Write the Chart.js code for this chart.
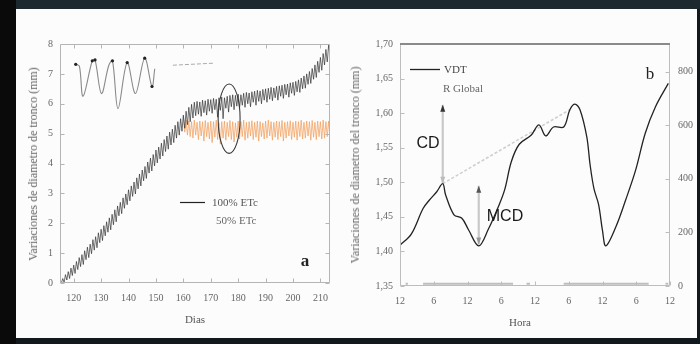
<!DOCTYPE html>
<html><head><meta charset="utf-8">
<script src="https://cdn.jsdelivr.net/npm/chart.js@4/dist/chart.umd.min.js"></script>
<style>
html,body{margin:0;padding:0;}
body{width:700px;height:344px;background:#12191c;position:relative;overflow:hidden;font-family:"Liberation Serif","DejaVu Serif",serif;}
#top{position:absolute;left:0;top:0;width:700px;height:9px;background:#1c2a2f;}
#left{position:absolute;left:0;top:0;width:16px;height:344px;background:#0a0a0a;}
#paper{position:absolute;left:16px;top:9px;width:681px;height:329px;background:#fcfcfc;}
canvas{position:absolute;}
.t{position:absolute;white-space:nowrap;color:#555;font-size:11px;line-height:1;transform:translate(0,-50%);}
.c{transform:translate(-50%,-50%);}
.r{transform:translate(-50%,-50%) rotate(-90deg);}
</style></head>
<body>
<div id="top"></div><div id="left"></div><div id="paper"></div>
<canvas id="ca" width="329" height="329" style="left:16px;top:9px"></canvas>
<canvas id="cb" width="355" height="329" style="left:345px;top:9px"></canvas>
<canvas id="ci" width="100" height="70" style="left:68px;top:50px"></canvas>

<div class="t r" style="left:33px;top:164px;font-size:12px;color:#666">Variaciones de diametro de tronco (mm)</div>
<div class="t c" style="left:195px;top:319px;font-size:11px;color:#555">Dias</div>
<div class="t" style="left:212px;top:202px;font-size:11px;color:#555">100% ETc</div>
<div class="t" style="left:216px;top:220px;font-size:11px;color:#666">50% ETc</div>
<div class="t c" style="left:305px;top:260px;font-size:17px;color:#222;font-weight:bold">a</div>

<div class="t r" style="left:355px;top:165px;font-size:12px;color:#666">Variaciones de diametro del tronco (mm)</div>
<div class="t c" style="left:520px;top:322px;font-size:11px;color:#555">Hora</div>
<div class="t" style="left:444px;top:69px;font-size:11px;color:#444">VDT</div>
<div class="t" style="left:443px;top:88px;font-size:11px;color:#666">R Global</div>
<div class="t c" style="left:650px;top:73px;font-size:17px;color:#222">b</div>
<div class="t c" style="left:428px;top:143px;font-size:16px;color:#1a1a1a;font-family:'Liberation Sans',Arial,sans-serif">CD</div>
<div class="t c" style="left:505px;top:216px;font-size:16px;color:#1a1a1a;font-family:'Liberation Sans',Arial,sans-serif">MCD</div>

<script>
// ---------- Panel a data ----------
const firstDay = 115;
const dayTicks = [120,130,140,150,160,170,180,190,200,210];
const mmTicks = [0,1,2,3,4,5,6,7,8];
// 100% ETc, daily maxima and minima (days 115..213)
const max100 = [0.05,0.15,0.28,0.38,0.50,0.60,0.72,0.85,0.95,1.08,
 1.20,1.30,1.45,1.55,1.68,1.80,1.92,2.05,2.18,2.30,
 2.45,2.58,2.70,2.85,2.98,3.12,3.25,3.38,3.52,3.65,
 3.78,3.90,4.05,4.18,4.30,4.45,4.55,4.68,4.80,4.92,
 5.05,5.15,5.28,5.40,5.50,5.62,5.75,5.88,5.98,6.05,
 6.08,6.06,6.12,6.10,6.15,6.14,6.18,6.15,6.20,6.22,
 6.20,6.25,6.28,6.30,6.28,6.32,6.30,6.35,6.38,6.36,
 6.40,6.42,6.45,6.43,6.48,6.50,6.52,6.55,6.53,6.58,
 6.60,6.62,6.65,6.66,6.70,6.72,6.75,6.80,6.86,6.93,
 7.00,7.08,7.18,7.30,7.42,7.55,7.68,7.82,7.96];
const min100 = [0.00,0.02,0.10,0.15,0.25,0.32,0.45,0.55,0.62,0.78,
 0.85,0.98,1.10,1.18,1.35,1.42,1.58,1.70,1.78,1.95,
 2.05,2.25,2.32,2.50,2.62,2.75,2.90,2.98,3.15,3.25,
 3.42,3.50,3.68,3.75,3.92,4.02,4.15,4.25,4.40,4.48,
 4.62,4.70,4.85,4.95,5.08,5.18,5.30,5.40,5.52,5.60,
 5.65,5.58,5.70,5.62,5.75,5.68,5.80,5.55,5.78,5.50,
 5.85,5.72,5.90,5.80,5.92,5.85,5.95,5.88,6.00,5.90,
 6.05,5.95,6.08,6.00,6.12,6.05,6.15,6.10,6.20,6.12,
 6.25,6.18,6.30,6.22,6.35,6.28,6.40,6.38,6.50,6.52,
 6.65,6.68,6.82,6.88,7.05,7.12,7.30,7.40,7.60];
// 50% ETc, daily maxima and minima (days 160..213)
const firstDay50 = 160;
const max50 = [5.55,5.45,5.42,5.40,5.45,5.38,5.42,5.40,5.44,5.38,
 5.42,5.40,5.45,5.36,5.40,5.42,5.38,5.44,5.40,5.36,
 5.42,5.40,5.45,5.38,5.40,5.43,5.38,5.42,5.40,5.36,
 5.42,5.45,5.40,5.38,5.42,5.40,5.44,5.38,5.40,5.43,
 5.38,5.42,5.40,5.45,5.38,5.42,5.40,5.44,5.38,5.42,
 5.40,5.45,5.40,5.42];
const min50 = [5.05,4.95,4.90,4.85,4.95,4.80,4.92,4.75,4.90,4.82,
 4.70,4.88,4.80,4.65,4.85,4.78,4.90,4.80,4.72,4.88,
 4.82,4.90,4.78,4.85,4.92,4.80,4.88,4.75,4.90,4.82,
 4.85,4.92,4.78,4.88,4.80,4.90,4.75,4.85,4.92,4.80,
 4.88,4.78,4.90,4.82,4.85,4.92,4.78,4.88,4.80,4.90,
 4.82,4.85,4.90,4.85];
// inset (zoom of daily cycles)
const insetHours = [2.7,8,13.3,26.7,30.7,40,50.7,56,64,77.3,89.3,102.7,113.3,117.3];
const insetValues = [7.35,7.29,6.27,7.47,7.50,6.36,7.32,7.47,5.85,7.41,6.36,7.56,6.60,7.20];
// connector inset -> ellipse
const connectorDays = [156.2,171.5];
const connectorValues = [7.29,7.36];
const ellipseA = {day:176.7, value:5.5, rDays:4.0, rValue:1.16};

// ---------- Panel b data ----------
const hourTicks = [0,6,12,18,24,30,36,42,48];
const hourLabels = ['12','6','12','6','12','6','12','6','12'];
const vdtTicks = [1.35,1.40,1.45,1.50,1.55,1.60,1.65,1.70];
const radTicks = [0,200,400,600,800];
const vdtHours = [0,2.0,4.1,5.2,6.5,7.6,8.1,9.6,11,12.2,14.0,15.7,17.5,18.6,19.8,21.2,23.3,24.7,25.9,27.3,29.1,30.2,31.1,32.0,33.2,33.8,34.5,35.3,36.0,36.6,38.4,40.1,41.9,43.6,45.4,47.7];
const vdtValues = [1.409,1.425,1.462,1.474,1.486,1.498,1.482,1.453,1.448,1.431,1.408,1.432,1.465,1.489,1.530,1.555,1.568,1.583,1.567,1.580,1.580,1.605,1.613,1.605,1.566,1.525,1.490,1.468,1.430,1.408,1.436,1.474,1.518,1.571,1.609,1.643];
const rGlobalHours = [1,1.4,2,4.1,20.1,21,22.5,23.1,25,29.1,44.2,45,47.2,47.7];
const rGlobalValues = [8,8,null,8,8,null,8,8,null,8,8,null,8,8];
const trendHours = [7.6,30.2];
const trendValues = [1.498,1.605];
const cdArrow = {hour:7.6, from:1.498, to:1.612};
const mcdArrow = {hour:14.0, from:1.410, to:1.495};

// ---------- helpers ----------
const tickFont = {family:"'Liberation Serif', serif", size:10};
const tickColor = '#666';
function pair(xs, ys){ return xs.map((x,i)=>({x:x, y:ys[i]})); }
function dailyPoints(start, maxs, mins){
  const pts=[];
  maxs.forEach((v,i)=>{ pts.push({x:start+i, y:v}); pts.push({x:start+i+0.5, y:mins[i]}); });
  return pts;
}
function drawFrame(chart, o){
  const {ctx, chartArea:ca, scales} = chart;
  const L = 4;
  ctx.save();
  ctx.strokeStyle = o.color; ctx.lineWidth = 1;
  const l=Math.round(ca.left)+0.5, r=Math.round(ca.right)-0.5, t=Math.round(ca.top)+0.5, b=Math.round(ca.bottom)-0.5;
  ctx.beginPath();
  ctx.moveTo(l,t); ctx.lineTo(l,b); ctx.lineTo(r,b); ctx.lineTo(r,t);
  if(!o.topStrong){ ctx.lineTo(l,t); }
  scales.x.ticks.forEach(tk=>{ const p=Math.round(scales.x.getPixelForValue(tk.value))+0.5;
    ctx.moveTo(p,b); ctx.lineTo(p,b-L); if(o.mirror){ ctx.moveTo(p,t); ctx.lineTo(p,t+L);} });
  scales.y.ticks.forEach(tk=>{ const p=Math.round(scales.y.getPixelForValue(tk.value))+0.5;
    ctx.moveTo(l,p); ctx.lineTo(l+L,p); if(o.mirror){ ctx.moveTo(r,p); ctx.lineTo(r-L,p);} });
  if(scales.y2){ scales.y2.ticks.forEach(tk=>{ const p=Math.round(scales.y2.getPixelForValue(tk.value))+0.5;
    ctx.moveTo(r,p); ctx.lineTo(r-L,p); }); }
  ctx.stroke();
  if(o.topStrong){ ctx.strokeStyle='#8a8a8a'; ctx.lineWidth=2; ctx.beginPath(); ctx.moveTo(ca.left,ca.top); ctx.lineTo(ca.right,ca.top); ctx.stroke(); }
  ctx.restore();
}
Chart.defaults.animation = false;
Chart.defaults.font.family = "'Liberation Serif', serif";
const noGrid = {display:false, drawTicks:false};

// ---------- Panel a ----------
new Chart(document.getElementById('ca'), {
  type:'line',
  data:{datasets:[
    {data:dailyPoints(firstDay, max100, min100), borderColor:'rgba(45,45,45,0.85)', borderWidth:0.8, pointRadius:0, tension:0},
    {data:dailyPoints(firstDay50, max50, min50), borderColor:'rgba(242,160,95,0.75)', borderWidth:1, pointRadius:0, tension:0},
    {data:pair(connectorDays, connectorValues), borderColor:'#aaa', borderWidth:1, borderDash:[4,2], pointRadius:0}
  ]},
  options:{
    responsive:false, devicePixelRatio:1,
    layout:{padding:{top:35, right:15, left:0, bottom:0}},
    plugins:{legend:{display:false}, tooltip:{enabled:false}},
    scales:{
      x:{type:'linear', min:115, max:213.5, grid:noGrid, border:{display:false},
         afterBuildTicks:s=>{ s.ticks = dayTicks.map(v=>({value:v})); },
         afterFit:s=>{ s.height = 55; },
         ticks:{font:tickFont, color:tickColor, padding:9, maxRotation:0, autoSkip:false}},
      y:{type:'linear', min:0, max:8, grid:noGrid, border:{display:false},
         afterBuildTicks:s=>{ s.ticks = mmTicks.map(v=>({value:v})); },
         afterFit:s=>{ s.width = 44; },
         ticks:{font:tickFont, color:tickColor, padding:7}}
    }
  },
  plugins:[{id:'frameA', afterDraw(c){
    drawFrame(c, {color:'#b5b5b5', mirror:true});
    const {ctx, scales:{x,y}} = c;
    const cx=x.getPixelForValue(ellipseA.day), cy=y.getPixelForValue(ellipseA.value);
    const rx=x.getPixelForValue(ellipseA.day+ellipseA.rDays)-cx, ry=cy-y.getPixelForValue(ellipseA.value+ellipseA.rValue);
    ctx.save(); ctx.strokeStyle='#3a3a3a'; ctx.lineWidth=1.1;
    ctx.beginPath(); ctx.ellipse(cx,cy,rx,ry,0,0,Math.PI*2); ctx.stroke();
    ctx.strokeStyle='#222'; ctx.lineWidth=1.2; ctx.beginPath(); ctx.moveTo(164,193.5); ctx.lineTo(189,193.5); ctx.stroke();
    ctx.restore();
  }}]
});

// ---------- Inset ----------
new Chart(document.getElementById('ci'), {
  type:'line',
  data:{datasets:[{data:pair(insetHours, insetValues), borderColor:'#8a8a8a', borderWidth:1.1, tension:0.35,
    pointRadius:ctx=>{ const v=ctx.raw && ctx.raw.y; return (v>7.4||ctx.dataIndex===0||ctx.dataIndex===12)?1.6:0; },
    pointBackgroundColor:'#222', pointBorderWidth:0}]},
  options:{responsive:false, devicePixelRatio:1, layout:{padding:0},
    plugins:{legend:{display:false}, tooltip:{enabled:false}},
    scales:{x:{type:'linear', display:false, min:-2.7, max:130.7}, y:{display:false, min:5.6, max:7.7}}}
});

// ---------- Panel b ----------
new Chart(document.getElementById('cb'), {
  type:'line',
  data:{datasets:[
    {data:pair(vdtHours, vdtValues), borderColor:'#222', borderWidth:1.3, pointRadius:0, tension:0.35, yAxisID:'y'},
    {data:pair(rGlobalHours, rGlobalValues), borderColor:'#bdbdbd', borderWidth:2, pointRadius:0, spanGaps:false, yAxisID:'y2'},
    {data:pair(trendHours, trendValues), borderColor:'#cfcfcf', borderWidth:1.6, borderDash:[3,2], pointRadius:0, yAxisID:'y'},
    {data:[{x:cdArrow.hour,y:cdArrow.from},{x:cdArrow.hour,y:cdArrow.to}], borderColor:'#c8c8c8', borderWidth:2.2, pointRadius:0, yAxisID:'y'},
    {data:[{x:mcdArrow.hour,y:mcdArrow.from},{x:mcdArrow.hour,y:mcdArrow.to}], borderColor:'#c8c8c8', borderWidth:2.2, pointRadius:0, yAxisID:'y'}
  ]},
  options:{
    responsive:false, devicePixelRatio:1,
    layout:{padding:{top:35, right:0, left:0, bottom:0}},
    plugins:{legend:{display:false}, tooltip:{enabled:false}},
    scales:{
      x:{type:'linear', min:0, max:48, grid:noGrid, border:{display:false},
         afterBuildTicks:s=>{ s.ticks = hourTicks.map(v=>({value:v})); },
         afterFit:s=>{ s.height = 52; },
         ticks:{font:tickFont, color:tickColor, padding:9, maxRotation:0, autoSkip:false,
                callback:(v,i)=>hourLabels[i]}},
      y:{type:'linear', position:'left', min:1.35, max:1.70, grid:noGrid, border:{display:false},
         afterBuildTicks:s=>{ s.ticks = vdtTicks.map(v=>({value:v})); },
         afterFit:s=>{ s.width = 55; },
         ticks:{font:tickFont, color:tickColor, padding:7, callback:v=>v.toFixed(2).replace('.',',')}},
      y2:{type:'linear', position:'right', min:0, max:903, grid:noGrid, border:{display:false},
         afterBuildTicks:s=>{ s.ticks = radTicks.map(v=>({value:v})); },
         afterFit:s=>{ s.width = 30; },
         ticks:{font:tickFont, color:tickColor, padding:8}}
    }
  },
  plugins:[{id:'frameB', afterDraw(c){
    drawFrame(c, {color:'#bdbdbd', mirror:false, topStrong:true});
    const {ctx, scales:{x,y}} = c;
    function head(h, v, dir, col){
      const px=x.getPixelForValue(h), py=y.getPixelForValue(v);
      ctx.fillStyle=col; ctx.beginPath();
      ctx.moveTo(px,py); ctx.lineTo(px-2.5,py+dir*7); ctx.lineTo(px+2.5,py+dir*7); ctx.closePath(); ctx.fill();
    }
    ctx.save();
    head(cdArrow.hour, cdArrow.to, 1, '#333');
    head(cdArrow.hour, cdArrow.from, -1, '#bbb');
    head(mcdArrow.hour, mcdArrow.to, 1, '#555');
    head(mcdArrow.hour, mcdArrow.from, -1, '#999');
    ctx.strokeStyle='#222'; ctx.lineWidth=1.3; ctx.beginPath(); ctx.moveTo(65,60.5); ctx.lineTo(95,60.5); ctx.stroke();
    ctx.restore();
  }}]
});
</script>
</body></html>
